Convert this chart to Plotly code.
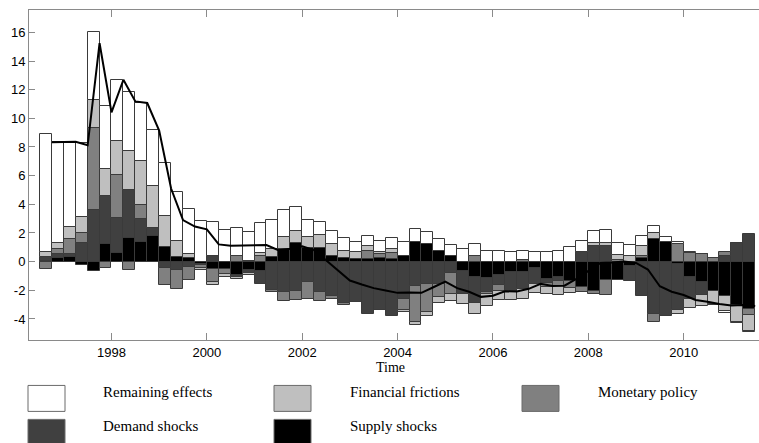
import plotly.graph_objects as go

# ---------------------------------------------------------------
# Quarterly historical decomposition, 1996Q3 - 2011Q2
# ---------------------------------------------------------------
first_year, first_quarter, n_quarters = 1996, 3, 60
quarters = []
yr, qt = first_year, first_quarter
for _ in range(n_quarters):
    quarters.append(f"{yr}Q{qt}")
    qt += 1
    if qt > 4:
        qt, yr = 1, yr + 1

supply = [0.05, 0.25, 0.35, -0.22, -0.65, 1.23, 0.58, 1.68, 1.37, 1.80,
          1.05, 0.30, 0.22, -0.15, -0.50, -0.50, -0.90, -0.60, -0.63, 0.30,
          0.88, 1.30, 0.93, 0.95, 0.40, 0.22, 0.20, 0.19, 0.28, 0.19,
          0.42, 1.39, 1.23, 0.72, 0.42, -0.63, -1.09, -1.16, -0.93, -0.74,
          -0.70, -0.46, -1.20, -1.09, -1.32, -1.79, -2.02, -1.28, -1.25, -0.28,
          0.28, 1.58, 1.39, -0.16, -1.04, -1.44, -2.02, -2.37, -3.06, -3.30]

demand = [0.30, 0.27, 0.15, 1.28, 3.62, 3.32, 2.44, 3.35, 1.57, 0.53,
          -0.46, -0.60, -0.40, -0.12, 0.40, 0.00, -0.20, -0.20, -0.92, -2.00,
          -2.10, -2.05, -1.45, -2.09, -2.37, -2.90, -2.83, -3.64, -3.41, -3.80,
          -2.60, -1.67, -1.55, -1.55, -0.79, -1.62, -1.79, -0.97, -0.69, -1.28,
          -1.20, -1.09, -0.30, -0.25, 0.00, 0.65, 1.07, 1.07, 0.00, -1.04,
          -2.37, -3.69, -3.76, -3.25, -1.60, -0.86, 0.00, 0.37, 1.30, 1.93]

monetary = [-0.50, 0.33, 1.10, 0.75, 5.70, -0.46, 3.04, -0.58, 1.00, 0.00,
            -1.20, -1.30, -0.85, -0.20, -0.95, -0.35, 0.38, 0.05, 0.38, -0.13,
            -0.66, -0.62, -1.15, -0.69, -0.25, -0.10, 0.00, 0.58, 0.22, 0.42,
            -0.80, -2.55, -1.98, -0.93, -1.46, 0.00, 0.42, -0.10, -0.40, 0.00,
            0.10, 0.00, -0.25, -0.35, -0.54, -0.34, -0.23, -1.02, 0.14, 0.00,
            0.09, -0.53, 0.00, 1.23, 0.58, 0.51, 0.25, 0.28, 0.00, -0.41]

financial = [0.30, 0.47, 0.85, 1.05, 1.98, 1.88, 2.36, 2.69, 3.10, 2.95,
             2.10, 1.12, 0.28, -0.10, -0.15, -0.20, -0.12, -0.10, 0.25, 0.55,
             0.81, 0.86, 0.76, 0.90, 0.85, 0.55, 0.48, 0.30, 0.18, 0.28,
             -0.13, -0.19, -0.23, -0.42, -0.53, -0.70, -0.76, -0.90, -0.69, -0.69,
             -0.70, -0.63, -0.50, -0.63, -0.32, 0.00, 0.21, 0.23, 0.35, 0.37,
             0.74, 0.42, 0.00, -0.28, -0.60, -0.80, -0.93, -1.10, -1.12, -1.16]

remaining = [8.28, 7.03, 5.85, 5.22, 4.70, 4.40, 4.25, 4.10, 4.06, 3.90,
             3.73, 3.45, 3.15, 2.85, 2.40, 2.20, 2.00, 2.05, 2.05, 2.05,
             1.90, 1.62, 1.23, 0.95, 0.90, 0.85, 0.72, 0.74, 0.74, 0.73,
             0.93, 0.88, 0.86, 0.86, 0.76, 0.88, 0.81, 0.72, 0.72, 0.65,
             0.67, 0.65, 0.70, 0.72, 1.00, 0.81, 0.88, 0.93, 0.79, 0.81,
             0.70, 0.46, 0.35, 0.12, 0.12, 0.00, -0.10, -0.10, -0.09, -0.05]

# observed series (drawn at the end of each quarter)
observed = [8.33, 8.35, 8.37, 8.12, 15.24, 10.42, 12.69, 11.18, 11.07, 9.14,
            5.10, 2.90, 2.45, 2.25, 1.20, 1.11, 1.11, 1.16, 1.16, 0.80,
            0.90, 1.07, 0.80, 0.10, -0.63, -1.32, -1.60, -1.85, -2.02, -2.18,
            -2.15, -2.18, -1.79, -1.39, -1.85, -2.10, -2.46, -2.38, -2.07, -2.09,
            -1.90, -1.55, -1.70, -1.68, -1.20, -0.67, -0.10, -0.07, 0.00, -0.09,
            -0.55, -1.72, -2.10, -2.33, -2.68, -2.80, -2.96, -3.06, -3.02, -3.10]

year_ticks = [1998, 2000, 2002, 2004, 2006, 2008, 2010]
value_ticks = [-4, -2, 0, 2, 4, 6, 8, 10, 12, 14, 16]

# stacking order: first trace sits next to zero
series = [
    ("Supply shocks", supply, "#000000"),
    ("Demand shocks", demand, "#404040"),
    ("Monetary policy", monetary, "#808080"),
    ("Financial frictions", financial, "#bfbfbf"),
    ("Remaining effects", remaining, "#ffffff"),
]
legend_order = ["Remaining effects", "Financial frictions", "Monetary policy",
                "Demand shocks", "Supply shocks"]

bar_x = [int(s[:4]) + (int(s[-1]) - 0.5) / 4 for s in quarters]
line_x = [int(s[:4]) + int(s[-1]) / 4 for s in quarters]

fig = go.Figure()
for name, vals, col in series:
    fig.add_trace(go.Bar(
        x=bar_x, y=vals, width=0.25, name=name, showlegend=False,
        marker=dict(color=col, line=dict(color="#3a3a3a", width=1)),
    ))

fig.add_trace(go.Scatter(
    x=line_x, y=observed, mode="lines", showlegend=False,
    line=dict(color="#000000", width=2),
))

W, H = 759, 443
L, R, T, B = 29, 0, 10, 102.5
plot_w, plot_h = W - L - R, H - T - B


def pxx(px):
    return (px - L) / plot_w


def pxy(py):
    return (H - B - py) / plot_h


axis_col = "#8a8a8a"
tick_font = dict(family="Liberation Sans, Arial, sans-serif", size=13, color="#000000")

fig.update_layout(
    width=W, height=H,
    margin=dict(l=L, r=R, t=T, b=B),
    barmode="relative", bargap=0,
    plot_bgcolor="#ffffff", paper_bgcolor="#ffffff",
    xaxis=dict(
        range=[1996.27, 2011.58], tickvals=year_ticks,
        ticktext=[str(v) for v in year_ticks],
        ticks="inside", ticklen=7, tickcolor=axis_col, tickwidth=1,
        showline=True, linecolor=axis_col, linewidth=1, mirror="ticks",
        showgrid=False, zeroline=False, tickfont=tick_font,
    ),
    yaxis=dict(
        range=[-5.47, 17.56], tickvals=value_ticks,
        ticktext=[str(v) for v in value_ticks],
        ticks="inside", ticklen=6, tickcolor=axis_col, tickwidth=1,
        showline=True, linecolor=axis_col, linewidth=1,
        showgrid=False, zeroline=False, tickfont=tick_font,
    ),
)

serif = dict(family="Liberation Serif, Times New Roman, serif", size=15, color="#000000")

fig.add_annotation(
    text="Time", x=pxx(390), y=pxy(368), xref="paper", yref="paper",
    showarrow=False, xanchor="center", yanchor="middle",
    font=dict(family=serif["family"], size=14, color="#000000"),
)

# legend grid: three columns, two rows
colours = {name: col for name, _, col in series}
col_box_x = [28, 274, 522]
col_text_x = [101, 348, 596]
row_box_y = [386, 420]
box_w, box_h = 37, 26
for i, name in enumerate(legend_order):
    r, c = divmod(i, 3)
    x0, y0 = col_box_x[c], row_box_y[r]
    fig.add_shape(
        type="rect", xref="paper", yref="paper",
        x0=pxx(x0), x1=pxx(x0 + box_w), y0=pxy(y0), y1=pxy(y0 + box_h),
        fillcolor=colours[name], line=dict(color="#6a6a6a", width=1),
    )
    fig.add_annotation(
        text=name, x=pxx(col_text_x[c]), y=pxy(y0 + 7), xref="paper", yref="paper",
        showarrow=False, xanchor="left", yanchor="middle", font=serif,
    )

fig.write_html("out.html")
